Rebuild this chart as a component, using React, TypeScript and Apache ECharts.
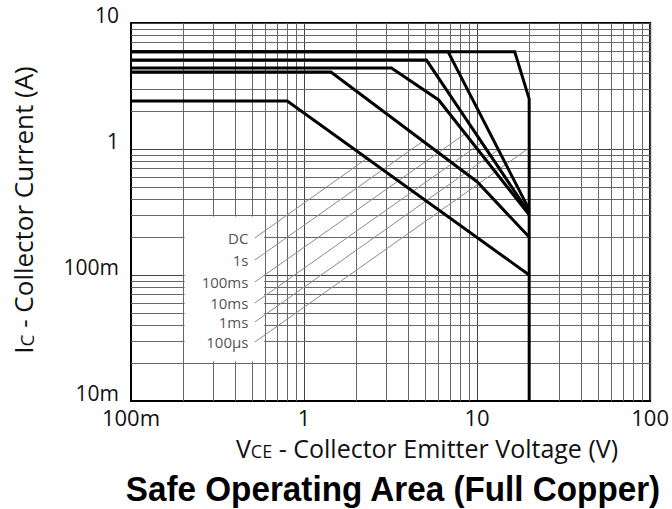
import React, { useEffect, useRef } from "react";
import * as echarts from "echarts";

// Axis decades and tick labels
const xTicks = [0.1, 1, 10, 100];
const xTickLabels = ["100m", "1", "10", "100"];
const yTicks = [0.01, 0.1, 1, 10];
const yTickLabels = ["10m", "100m", "1", "10"];

// Minor grid values
const minorX = [0.2, 0.3, 0.4, 0.5, 0.6, 0.7, 0.8, 0.9, 2, 3, 4, 5, 6, 7, 8, 9, 20, 30, 40, 50, 60, 70, 80, 90];
const minorY = [0.02, 0.03, 0.04, 0.05, 0.06, 0.07, 0.08, 0.09, 0.2, 0.3, 0.4, 0.5, 0.6, 0.7, 0.8, 0.9, 2, 3, 4, 5, 6, 7, 8, 9];

// SOA curves [VCE (V), IC (A)]
const curveNames = ["DC", "1s", "100ms", "10ms", "1ms", "100µs"];
const curveDC = [[0.1, 2.4], [0.8, 2.4], [20, 0.1]];
const curve1s = [[0.1, 4.08], [1.43, 4.08], [10, 0.55], [20, 0.2]];
const curve100ms = [[0.1, 4.4], [3.2, 4.4], [6.0, 2.45], [20, 0.3]];
const curve10ms = [[0.1, 5.08], [5.1, 5.08], [20, 0.31]];
const curve1ms = [[0.1, 5.9], [6.8, 5.9], [20, 0.33]];
const curve100us = [[0.1, 5.9], [16.5, 5.9], [20, 2.5], [20, 0.01]];

// Leader lines from labels to curves
const leaderStarts = [[0.52, 0.197], [0.52, 0.1315], [0.52, 0.088], [0.52, 0.06], [0.52, 0.0424], [0.52, 0.0294]];
const leaderEnds = [[2.33, 0.85], [4.9, 1.16], [8.65, 1.34], [10.6, 1.12], [13.3, 0.99], [20, 1.02]];

// White label box corners
const legendBox = [[0.204, 0.291], [0.588, 0.0206]];

const FONT = '"Open Sans", "Noto Sans", sans-serif';

function labelFor(ticks: number[], labels: string[], v: number) {
  const e = Math.round(Math.log10(v));
  const i = ticks.findIndex((t) => Math.round(Math.log10(t)) === e);
  return i >= 0 ? labels[i] : "";
}

export default function App() {
  const ref = useRef<HTMLDivElement>(null);
  useEffect(() => {
    if (!ref.current) return;
    const chart = echarts.init(ref.current, null, { renderer: "svg" });
    const curves = [curveDC, curve1s, curve100ms, curve10ms, curve1ms, curve100us];
    const series: any[] = [
      {
        type: "line",
        data: [[0.1, 0.01]],
        showSymbol: false,
        lineStyle: { opacity: 0 },
        silent: true,
        markLine: {
          z: 1,
          silent: true,
          symbol: ["none", "none"],
          label: { show: false },
          lineStyle: { color: "#666", width: 1, type: "solid" },
          emphasis: { disabled: true },
          data: [...minorX.map((v) => ({ xAxis: v })), ...minorY.map((v) => ({ yAxis: v }))],
        },
      },
      {
        type: "line",
        data: [[0.1, 0.01]],
        showSymbol: false,
        lineStyle: { opacity: 0 },
        silent: true,
        markArea: {
          z: 2,
          silent: true,
          label: { show: false },
          itemStyle: { color: "#ffffff", opacity: 1 },
          data: [[{ coord: legendBox[0] }, { coord: legendBox[1] }]],
        },
      },
    ];
    leaderStarts.forEach((s, i) => {
      series.push({
        type: "line",
        z: 3,
        silent: true,
        symbol: "none",
        data: [s, leaderEnds[i]],
        lineStyle: { color: "#8a8a8a", width: 1 },
      });
    });
    curves.forEach((c, i) => {
      series.push({
        type: "line",
        name: curveNames[i],
        z: 4,
        silent: true,
        symbol: "none",
        data: c,
        lineStyle: { color: "#000", width: 3, join: "miter" },
      });
    });
    series.push({
      type: "scatter",
      z: 5,
      silent: true,
      symbolSize: 1,
      itemStyle: { color: "rgba(0,0,0,0)" },
      data: leaderStarts.map((p, i) => ({ value: p, name: curveNames[i] })),
      label: {
        show: true,
        position: "left",
        distance: 6,
        formatter: "{b}",
        fontSize: 15,
        lineHeight: 16,
        fontFamily: FONT,
        color: "#222",
      },
    });

    chart.setOption({
      animation: false,
      backgroundColor: "#fff",
      grid: { left: 131, right: 19, top: 23, bottom: 108, show: true, borderColor: "#000", borderWidth: 2, backgroundColor: "transparent" },
      xAxis: {
        type: "log",
        logBase: 10,
        min: 0.1,
        max: 100,
        axisLine: { show: true, lineStyle: { color: "#000", width: 2 } },
        axisTick: { show: false },
        splitLine: { show: true, lineStyle: { color: "#444", width: 1 } },
        axisLabel: {
          formatter: (v: number) => labelFor(xTicks, xTickLabels, v),
          fontSize: 22,
          lineHeight: 20,
          fontFamily: FONT,
          color: "#111",
          margin: 6,
          showMinLabel: true,
          showMaxLabel: true,
        },
      },
      yAxis: {
        type: "log",
        logBase: 10,
        min: 0.01,
        max: 10,
        axisLine: { show: true, lineStyle: { color: "#000", width: 2 } },
        axisTick: { show: false },
        splitLine: { show: true, lineStyle: { color: "#444", width: 1 } },
        axisLabel: {
          formatter: (v: number) => labelFor(yTicks, yTickLabels, v),
          fontSize: 21,
          lineHeight: 16,
          verticalAlign: "bottom",
          fontFamily: FONT,
          color: "#111",
          margin: 12,
        },
      },
      graphic: [
        {
          type: "text",
          x: 22,
          y: 210,
          rotation: Math.PI / 2,
          style: {
            text: "{a|I}{b|C}{a| - Collector Current (A)}",
            align: "center",
            verticalAlign: "middle",
            fill: "#111",
            rich: {
              a: { fontSize: 26, fontFamily: FONT, fill: "#111", verticalAlign: "bottom", lineHeight: 28 },
              b: { fontSize: 19, fontFamily: FONT, fill: "#111", verticalAlign: "bottom", lineHeight: 27 },
            },
          },
        },
        {
          type: "text",
          x: 427,
          y: 448,
          style: {
            text: "{a|V}{b|CE}{a| - Collector Emitter Voltage (V)}",
            align: "center",
            verticalAlign: "middle",
            fill: "#111",
            rich: {
              a: { fontSize: 25, fontFamily: FONT, fill: "#111", verticalAlign: "bottom", lineHeight: 24 },
              b: { fontSize: 18, fontFamily: FONT, fill: "#111", verticalAlign: "bottom", lineHeight: 23 },
            },
          },
        },
        {
          type: "text",
          x: 393,
          y: 489,
          scaleX: 0.95,
          style: {
            text: "Safe Operating Area (Full Copper)",
            align: "center",
            verticalAlign: "middle",
            fill: "#000",
            font: 'bold 35px "Liberation Sans", Arial, sans-serif',
          },
        },
      ],
      series,
    });
    return () => chart.dispose();
  }, []);
  return <div ref={ref} style={{ position: "fixed", left: 0, top: 0, width: 672, height: 509 }} />;
}
